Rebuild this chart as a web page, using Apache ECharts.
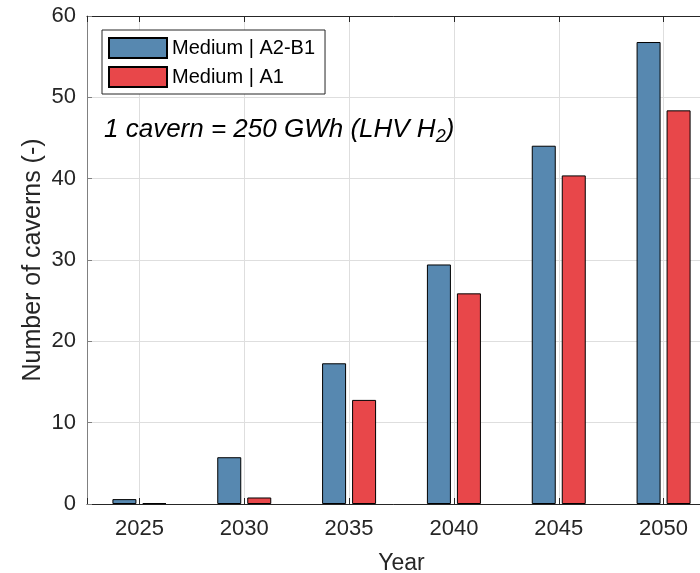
<!DOCTYPE html>
<html>
<head>
<meta charset="utf-8">
<script src="https://cdn.jsdelivr.net/npm/echarts@6/dist/echarts.min.js"></script>
<style>
html,body{margin:0;padding:0;background:#fff;}
#chart{width:700px;height:573px;}
</style>
</head>
<body>
<div id="chart"></div>
<script>
const years = [2025, 2030, 2035, 2040, 2045, 2050];
const seriesNames = ['Medium | A2-B1', 'Medium | A1'];
const valuesA2B1 = [0.6, 5.75, 17.3, 29.45, 44.05, 56.8];
const valuesA1 = [0.1, 0.8, 12.8, 25.9, 40.4, 48.4];
const yTicks = [0, 10, 20, 30, 40, 50, 60];
const colors = ['#5788b0', '#e8474a'];

const FONT = 'Liberation Sans, Arial, Helvetica, sans-serif';
const chart = echarts.init(document.getElementById('chart'), null, {renderer: 'canvas'});

function pairs(vals) { return years.map((y, i) => [y, vals[i]]); }

const option = {
  animation: false,
  backgroundColor: '#fff',
  grid: {left: 87, right: -16, top: 16, bottom: 69, containLabel: false, outerBoundsMode: 'none'},
  legend: {
    data: seriesNames,
    orient: 'vertical',
    left: 102, top: 30,
    itemWidth: 58, itemHeight: 20, itemGap: 7,
    padding: [7, 10, 6, 6],
    borderColor: '#262626', borderWidth: 1,
    backgroundColor: '#fff',
    textStyle: {fontFamily: FONT, fontSize: 20, color: '#000'},
    icon: 'rect'
  },
  xAxis: [{
    type: 'value',
    min: 2022.5, max: 2052.5,
    minInterval: 5, maxInterval: 5,
    name: 'Year', nameLocation: 'middle', nameGap: 48,
    nameMoveOverlap: false,
    nameTextStyle: {fontFamily: FONT, fontSize: 23, color: '#262626'},
    axisLine: {show: true, lineStyle: {color: '#262626', width: 1}},
    axisTick: {show: true, inside: true, length: 6, lineStyle: {color: '#262626'}},
    axisLabel: {
      fontFamily: FONT, fontSize: 22, color: '#262626', margin: 14,
      formatter: v => (years.indexOf(v) >= 0 ? String(v) : '')
    },
    splitLine: {show: true, lineStyle: {color: '#dedede', width: 1}}
  }, {
    type: 'value', position: 'top',
    min: 2022.5, max: 2052.5,
    minInterval: 5, maxInterval: 5,
    axisLine: {show: true, lineStyle: {color: '#262626', width: 1}},
    axisTick: {show: true, inside: true, length: 6, lineStyle: {color: '#262626'}},
    axisLabel: {show: false},
    splitLine: {show: false}
  }],
  yAxis: {
    type: 'value', min: 0, max: 60, interval: 10,
    name: 'Number of caverns (-)', nameLocation: 'middle', nameGap: 41,
    nameMoveOverlap: false,
    nameTextStyle: {fontFamily: FONT, fontSize: 25, color: '#262626'},
    axisLine: {show: true, lineStyle: {color: '#808080', width: 1}},
    axisTick: {show: true, inside: true, length: 5, lineStyle: {color: '#808080'}},
    axisLabel: {
      fontFamily: FONT, fontSize: 22, color: '#262626', margin: 11,
      formatter: v => (yTicks.indexOf(v) >= 0 ? String(v) : '')
    },
    splitLine: {show: true, lineStyle: {color: '#dedede', width: 1}}
  },
  graphic: [{
    type: 'text',
    left: 104, top: 117,
    z: 10,
    style: {
      text: '{a|1 cavern = 250 GWh (LHV H}{s|2}{a|)}',
      rich: {
        a: {fontFamily: FONT, fontSize: 26, fontStyle: 'italic', lineHeight: 32, fill: '#000'},
        s: {fontFamily: FONT, fontSize: 18, fontStyle: 'italic', lineHeight: 14, verticalAlign: 'bottom', fill: '#000'}
      }
    }
  }],
  series: [{
    name: seriesNames[0], type: 'bar',
    xAxisIndex: 0,
    data: pairs(valuesA2B1),
    barWidth: 24, barGap: '25%',
    itemStyle: {color: colors[0], borderColor: '#000', borderWidth: 1}
  }, {
    name: seriesNames[1], type: 'bar',
    xAxisIndex: 0,
    data: pairs(valuesA1),
    barWidth: 24, barGap: '25%',
    itemStyle: {color: colors[1], borderColor: '#000', borderWidth: 1}
  }]
};
chart.setOption(option);
</script>
</body>
</html>
